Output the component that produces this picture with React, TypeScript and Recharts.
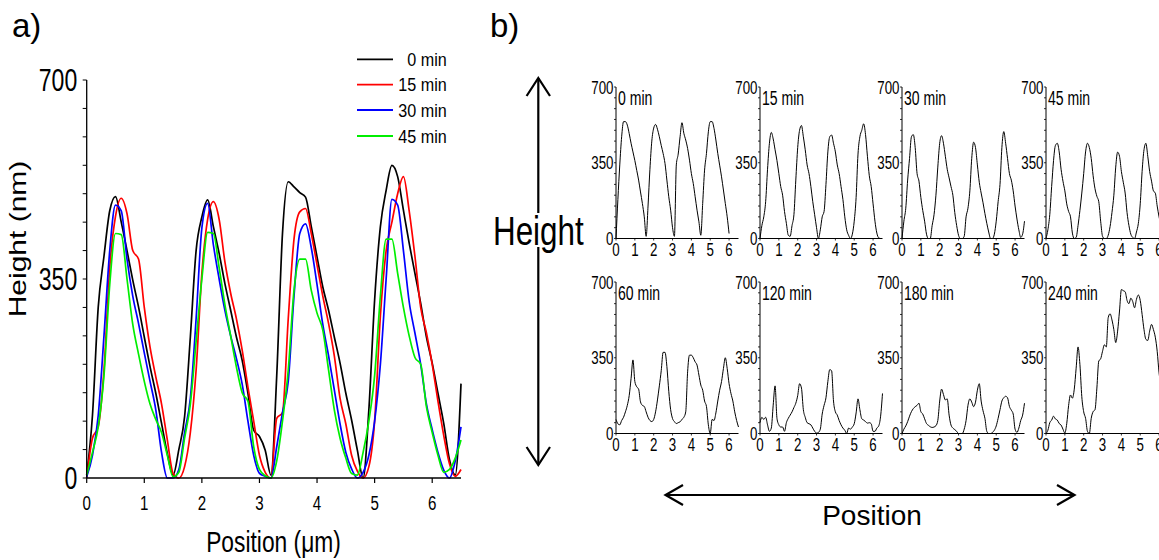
import React from 'react';
import { LineChart, Line, XAxis, YAxis } from 'recharts';

const FONT = '"Liberation Sans", Arial, Helvetica, sans-serif';

// sample positions along the profile (µm)
const POS = [
  0, 0.1, 0.2, 0.3, 0.4, 0.5, 0.6, 0.7, 0.8, 0.9,
  1, 1.1, 1.2, 1.3, 1.4, 1.5, 1.6, 1.7, 1.8, 1.9,
  2, 2.1, 2.2, 2.3, 2.4, 2.5, 2.6, 2.7, 2.8, 2.9,
  3, 3.1, 3.2, 3.3, 3.4, 3.5, 3.6, 3.7, 3.8, 3.9,
  4, 4.1, 4.2, 4.3, 4.4, 4.5, 4.6, 4.7, 4.8, 4.9,
  5, 5.1, 5.2, 5.3, 5.4, 5.5, 5.6, 5.7, 5.8, 5.9,
  6, 6.1, 6.2, 6.3, 6.4, 6.5,
];

// panel a) height profiles (nm)
const H_0 = [
  5, 110, 300, 390, 470, 495, 450, 400, 348, 301,
  248, 196, 149, 96, 43, 5, 50, 108, 248, 400,
  459, 489, 442, 395, 342, 295, 248, 207, 149, 84,
  73, 49, 5, 180, 430, 521, 512, 502, 494, 442,
  389, 336, 295, 248, 202, 149, 102, 49, 0, 120,
  313, 442, 506, 550, 530, 471, 413, 360, 307, 248,
  202, 149, 96, 32, 5, 166,
];
const H_15 = [
  0, 70, 90, 190, 370, 460, 492, 465, 400, 385,
  300, 230, 178, 130, 67, 8, 0, 20, 80, 190,
  360, 455, 486, 455, 380, 325, 280, 225, 160, 100,
  40, 10, 0, 105, 115, 280, 420, 468, 474, 430,
  375, 320, 272, 215, 140, 95, 40, 12, 0, 20,
  100, 285, 400, 450, 500, 530, 470, 390, 300, 255,
  200, 135, 75, 25, 3, 15,
];
const H_30 = [
  2, 40, 110, 250, 400, 480, 470, 385, 320, 272,
  220, 170, 120, 45, 0, 0, 15, 80, 140, 280,
  440, 483, 410, 350, 295, 250, 210, 165, 100, 40,
  8, 3, 0, 55, 115, 170, 320, 430, 447, 405,
  340, 270, 215, 155, 95, 45, 16, 0, 10, 40,
  100, 200, 350, 490, 480, 400, 310, 255, 200, 130,
  85, 45, 14, 0, 30, 90,
];
const H_45 = [
  5, 45, 90, 180, 340, 430, 428, 350, 270, 218,
  170, 130, 103, 80, 40, 2, 10, 70, 130, 240,
  350, 432, 430, 370, 305, 250, 195, 150, 135, 55,
  15, 4, 0, 30, 100, 190, 330, 385, 385, 330,
  290, 260, 190, 120, 70, 35, 8, 5, 45, 100,
  180, 320, 420, 420, 360, 300, 250, 212, 200, 125,
  80, 40, 10, 15, 35, 67,
];

// panel b) profiles
const P_0 = [
  0, 180, 340, 470, 540, 540, 524, 485, 440, 400,
  360, 315, 270, 215, 162, 100, 10, 150, 320, 450,
  510, 527, 505, 470, 430, 393, 347, 270, 193, 131,
  50, 10, 340, 390, 470, 535, 486, 455, 416, 362,
  300, 254, 193, 131, 77, 15, 162, 316, 393, 493,
  540, 540, 509, 455, 393, 339, 285, 224, 162, 100,
  23, null, null, null, null, null,
];
const P_15 = [
  0, 60, 100, 170, 320, 440, 490, 460, 410, 360,
  300, 240, 200, 125, 70, 15, 10, 60, 110, 270,
  420, 500, 522, 470, 410, 340, 300, 240, 170, 110,
  50, 0, 40, 100, 125, 250, 400, 470, 478, 440,
  400, 340, 300, 240, 180, 100, 40, 15, 0, 20,
  80, 190, 390, 470, 500, 530, 480, 380, 290, 240,
  160, 80, 25, 3, 0, null,
];
const P_30 = [
  0, 80, 140, 270, 370, 470, 480, 420, 300, 265,
  190, 130, 80, 20, 0, 0, 60, 110, 200, 330,
  440, 475, 440, 380, 320, 280, 240, 200, 120, 60,
  15, 0, 0, 10, 100, 140, 220, 370, 445, 420,
  340, 260, 210, 165, 115, 70, 30, 0, 0, 20,
  80, 170, 250, 420, 494, 440, 370, 300, 270, 220,
  150, 90, 40, 5, 20, 80,
];
const P_45 = [
  0, 40, 110, 240, 360, 430, 440, 400, 320, 265,
  220, 160, 125, 100, 25, 0, 5, 60, 130, 210,
  300, 400, 440, 420, 370, 290, 230, 195, 170, 80,
  10, 0, 0, 15, 55, 120, 200, 330, 399, 380,
  310, 260, 210, 120, 60, 20, 5, 0, 30, 70,
  160, 310, 410, 440, 380, 310, 265, 220, 210, 150,
  100, 60, 25, 5, 20, 60,
];
const P_60 = [
  65, 45, 40, 60, 75, 100, 130, 175, 254, 340,
  240, 216, 205, 146, 130, 125, 100, 75, 60, 55,
  65, 100, 155, 220, 290, 375, 375, 310, 195, 110,
  69, 55, 46, 50, 54, 65, 75, 100, 285, 362,
  362, 350, 331, 316, 270, 224, 200, 150, 125, 40,
  0, 65, 60, 95, 150, 200, 240, 300, 350, 300,
  230, 185, 150, 100, 60, 30,
];
const P_120 = [
  50, 75, 65, 75, 40, 10, 25, 131, 220, 70,
  40, 30, 30, 10, 50, 70, 85, 100, 120, 140,
  175, 230, 210, 110, 75, 50, 45, 40, 25, 10,
  2, 5, 20, 90, 130, 165, 240, 295, 290, 150,
  100, 85, 60, 40, 25, 15, 0, 25, 20, 30,
  45, 95, 160, 110, 68, 62, 55, 48, 50, 45,
  10, 10, 25, 35, 80, 185,
];
const P_180 = [
  0, 20, 35, 55, 80, 101, 115, 124, 130, 140,
  101, 90, 68, 46, 38, 31, 28, 30, 36, 60,
  150, 205, 180, 155, 160, 85, 39, 25, 18, 10,
  0, 0, 0, 20, 60, 130, 160, 145, 124, 145,
  200, 230, 150, 105, 70, 10, 0, 0, 5, 15,
  35, 70, 110, 150, 165, 172, 165, 125, 108, 90,
  20, 5, 25, 60, 85, 140,
];
const P_240 = [
  0, 15, 50, 62, 80, 67, 62, 46, 39, 20,
  2, 45, 130, 178, 163, 205, 302, 400, 318, 170,
  100, 70, 10, 0, 70, 101, 110, 210, 335, 345,
  380, 410, 400, 535, 553, 525, 480, 420, 473, 566,
  665, 660, 655, 615, 600, 625, 610, 581, 620, 640,
  615, 550, 480, 435, 430, 473, 504, 480, 445, 380,
  280, 220, 180, 150, 120, 100,
];

const X_TICKS = [0, 1, 2, 3, 4, 5, 6];
const Y_TICKS = [0, 50, 100, 150, 200, 250, 300, 350, 400, 450, 500, 550, 600, 650, 700];
const Y_LABELS = [0, 350, 700];

const MAIN_SERIES = [
  { key: 't0', name: '0 min', color: '#000000', values: H_0 },
  { key: 't15', name: '15 min', color: '#ff0000', values: H_15 },
  { key: 't30', name: '30 min', color: '#0000ff', values: H_30 },
  { key: 't45', name: '45 min', color: '#00ee00', values: H_45 },
];

const PANELS = [
  { title: '0 min', values: P_0 },
  { title: '15 min', values: P_15 },
  { title: '30 min', values: P_30 },
  { title: '45 min', values: P_45 },
  { title: '60 min', values: P_60 },
  { title: '120 min', values: P_120 },
  { title: '180 min', values: P_180 },
  { title: '240 min', values: P_240 },
];

const mainRows = POS.map((x, i) => {
  const row: Record<string, number> = { x };
  MAIN_SERIES.forEach((s) => { row[s.key] = s.values[i]; });
  return row;
});

// text squeezed horizontally, like the original figure
const SText = ({ x, y, size, anchor = 'start', sx = 0.72, children }: any) => (
  <text
    transform={`translate(${x},${y}) scale(${sx},1)`}
    fontSize={size}
    textAnchor={anchor}
    fontFamily={FONT}
    fill="#000"
  >
    {children}
  </text>
);

const MainYTick = ({ x, y, payload }: any) => (
  <g>
    <line x1={x - 4} x2={x} y1={y} y2={y} stroke="#000" strokeWidth={1} />
    {Y_LABELS.includes(payload.value) && (
      <SText x={x - 9.5} y={y + 11} size={32} anchor="end">{payload.value}</SText>
    )}
  </g>
);

const MainXTick = ({ x, y, payload }: any) => (
  <g>
    <line x1={x} x2={x} y1={y} y2={y + 5} stroke="#000" strokeWidth={1.2} />
    <SText x={x} y={y + 32} size={21} anchor="middle">{payload.value}</SText>
  </g>
);

const SmallYTick = ({ x, y, payload }: any) => (
  <g>
    <line x1={x - 2} x2={x} y1={y} y2={y} stroke="#000" strokeWidth={0.8} />
    {Y_LABELS.includes(payload.value) && (
      <SText x={x - 2.5} y={y + 6.5} size={18.5} anchor="end">{payload.value}</SText>
    )}
  </g>
);

const SmallXTick = ({ x, y, payload }: any) => (
  <g>
    <line x1={x} x2={x} y1={y} y2={y + 2} stroke="#000" strokeWidth={0.8} />
    <SText x={x} y={y + 17} size={18.5} anchor="middle">{payload.value}</SText>
  </g>
);

const PW = 122.5;
const PH = 151.5;

const SmallPanel = ({ title, values, left, top }: any) => {
  const data = POS.map((x, i) => ({ x, h: values[i] }));
  return (
    <div style={{ position: 'absolute', left: left - 40, top: top - 20 }}>
      <LineChart width={40 + PW + 6} height={20 + PH + 24} data={data} margin={{ top: 20, right: 6, bottom: 0, left: 0 }}>
        <XAxis
          dataKey="x" type="number" domain={[0, 6.5]} ticks={X_TICKS} interval={0}
          height={24} tickSize={0} tickMargin={0} tickLine={false}
          axisLine={{ stroke: '#000', strokeWidth: 1 }} tick={(p: any) => <SmallXTick {...p} />}
        />
        <YAxis
          type="number" domain={[0, 700]} ticks={Y_TICKS} interval={0}
          width={40} tickSize={0} tickMargin={0} tickLine={false}
          axisLine={{ stroke: '#000', strokeWidth: 1 }} tick={(p: any) => <SmallYTick {...p} />}
        />
        <Line type="monotone" dataKey="h" stroke="#000" strokeWidth={1} dot={false} isAnimationActive={false} />
      </LineChart>
      <svg width={100} height={50} style={{ position: 'absolute', left: 40, top: 0, pointerEvents: 'none' }}>
        <SText x={2} y={38} size={19.5}>{title}</SText>
      </svg>
    </div>
  );
};

const COLS = [616, 760, 902.3, 1045.7];
const ROWS = [87, 281.7];
const LEGEND_Y = [59.3, 84.7, 110, 136];

export default function App() {
  return (
    <div style={{ position: 'fixed', left: 0, top: 0, width: 1159, height: 560, overflow: 'hidden', background: '#fff' }}>
      {/* a) overlay of the four profiles */}
      <div style={{ position: 'absolute', left: 0, top: 0 }}>
        <LineChart width={480} height={560} data={mainRows} margin={{ top: 80, right: 19, bottom: 0, left: 0 }}>
          <XAxis
            dataKey="x" type="number" domain={[0, 6.5]} ticks={X_TICKS} interval={0}
            height={82} tickSize={0} tickMargin={0} tickLine={false}
            axisLine={{ stroke: '#000', strokeWidth: 1.3 }} tick={(p: any) => <MainXTick {...p} />}
          />
          <YAxis
            type="number" domain={[0, 700]} ticks={Y_TICKS} interval={0}
            width={86.7} tickSize={0} tickMargin={0} tickLine={false}
            axisLine={{ stroke: '#000', strokeWidth: 1.3 }} tick={(p: any) => <MainYTick {...p} />}
          />
          {MAIN_SERIES.map((s) => (
            <Line
              key={s.key} type="monotone" dataKey={s.key} name={s.name} stroke={s.color}
              strokeWidth={1.7} dot={false} isAnimationActive={false}
            />
          ))}
        </LineChart>
      </div>

      {/* b) small multiples */}
      {PANELS.map((p, i) => (
        <SmallPanel key={p.title} title={p.title} values={p.values} left={COLS[i % 4]} top={ROWS[Math.floor(i / 4)]} />
      ))}

      <svg width={1159} height={560} style={{ position: 'absolute', left: 0, top: 0, pointerEvents: 'none' }}>
        <SText x={12} y={37} size={33} sx={1}>a)</SText>
        <SText x={490} y={37} size={33} sx={1}>b)</SText>

        {MAIN_SERIES.map((s, i) => (
          <g key={s.key}>
            <line x1={357} x2={393} y1={LEGEND_Y[i]} y2={LEGEND_Y[i]} stroke={s.color} strokeWidth={1.8} />
            <SText x={446.7} y={LEGEND_Y[i] + 6.5} size={19} sx={0.85} anchor="end">{s.name}</SText>
          </g>
        ))}

        <text
          transform="translate(26,239) rotate(-90) scale(1,0.78)"
          fontSize={30} textAnchor="middle" fontFamily={FONT} fill="#000"
        >
          Height (nm)
        </text>
        <SText x={273.5} y={552} size={30} sx={0.76} anchor="middle">Position (μm)</SText>

        {/* height arrow */}
        <line x1={538.3} x2={538.3} y1={78} y2={465} stroke="#000" strokeWidth={2.2} />
        <polyline points="526.6,96 538.3,78 550,96" fill="none" stroke="#000" strokeWidth={2.2} />
        <polyline points="526.6,447 538.3,465 550,447" fill="none" stroke="#000" strokeWidth={2.2} />
        <rect x={490} y={213} width={94} height={34} fill="#fff" />
        <SText x={493} y={245} size={40} sx={0.785}>Height</SText>

        {/* position arrow */}
        <line x1={666} x2={1074} y1={495} y2={495} stroke="#000" strokeWidth={2.2} />
        <polyline points="683,485 665.5,495 683,505" fill="none" stroke="#000" strokeWidth={2.2} />
        <polyline points="1057,485 1074.5,495 1057,505" fill="none" stroke="#000" strokeWidth={2.2} />
        <SText x={872} y={525} size={28} sx={1} anchor="middle">Position</SText>
      </svg>
    </div>
  );
}
